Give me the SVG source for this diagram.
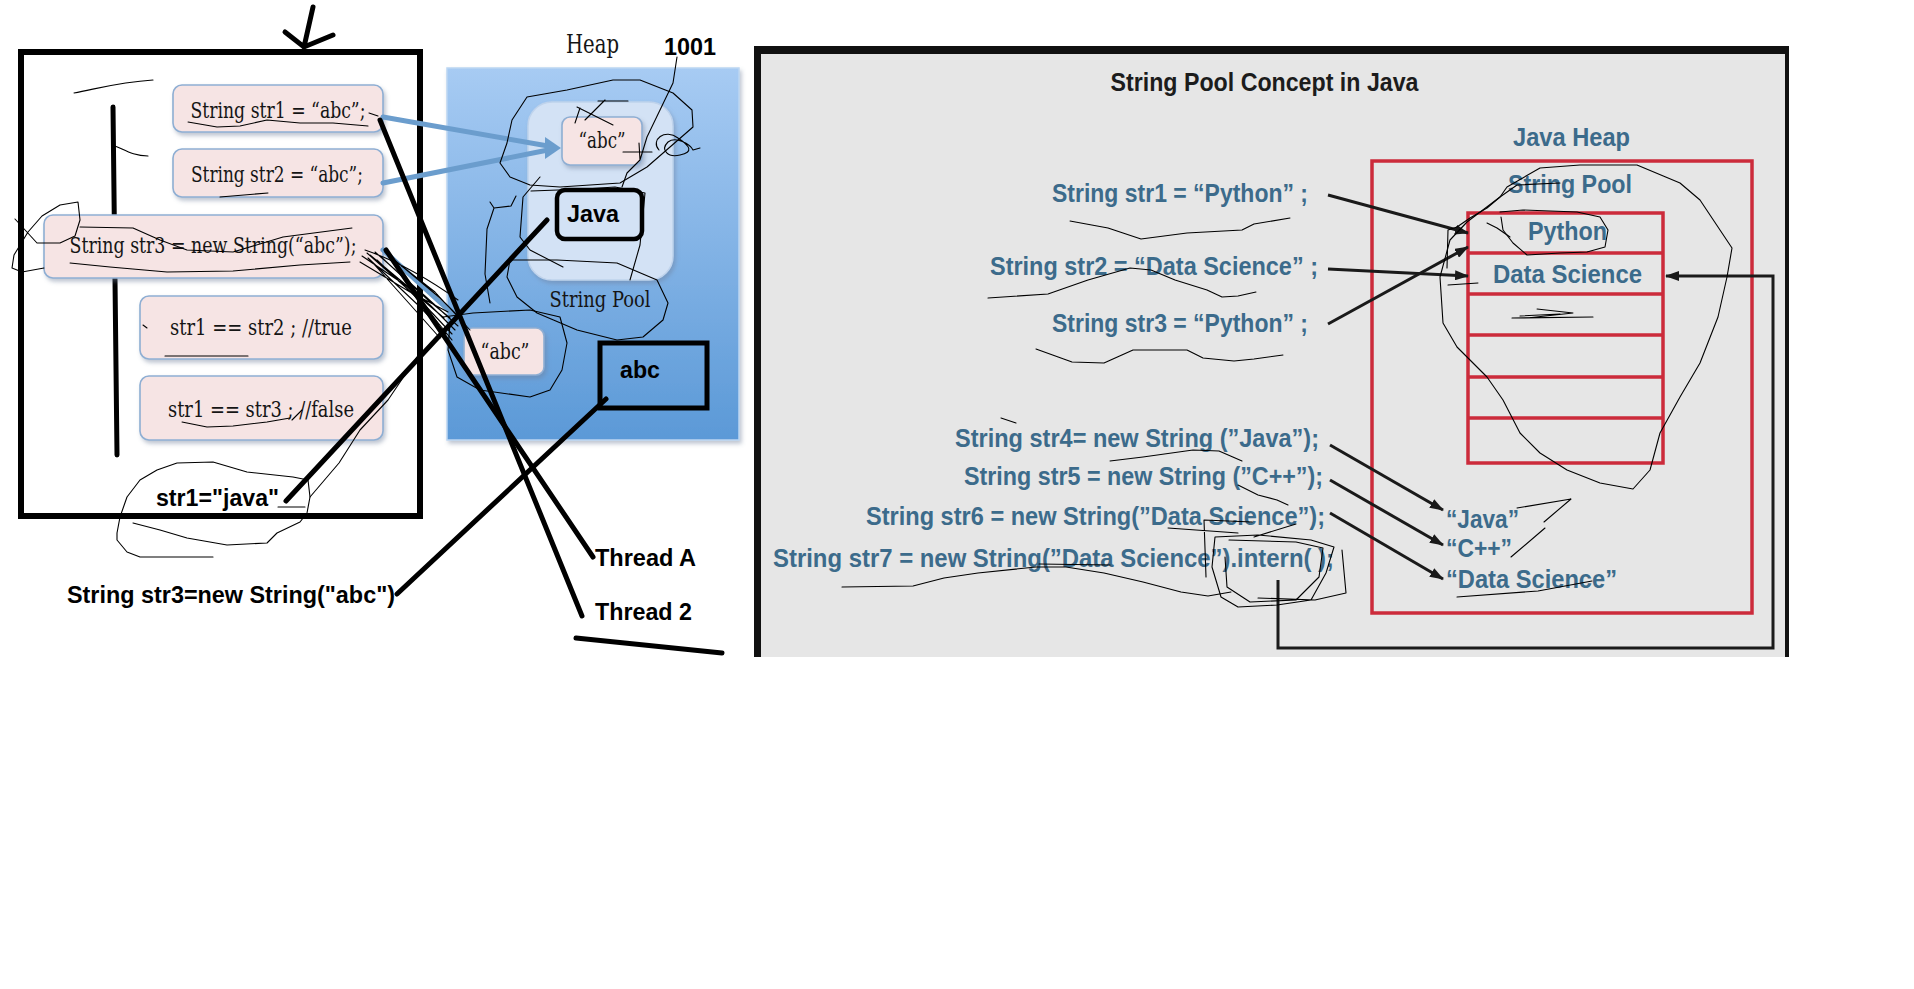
<svg xmlns="http://www.w3.org/2000/svg" width="1914" height="989" viewBox="0 0 1914 989">
<defs>
<style>
.ink{stroke:#000;stroke-width:5;stroke-linecap:round;fill:none}
.thin{stroke:#000;stroke-width:1.1;fill:none;stroke-linejoin:round;stroke-linecap:round}
.pink{fill:#f6e4e4;stroke:#8eaed3;stroke-width:1.6}
.serif{font-family:"DejaVu Serif","Liberation Serif",serif;font-size:22px;fill:#151515}
.bold{font-family:"Liberation Sans",Arial,sans-serif;font-weight:bold;font-size:23px;fill:#000}
.blue{stroke:#6b9dcd;stroke-width:5;fill:none;stroke-linecap:round}
.rtxt{font-family:"Liberation Sans",Arial,sans-serif;font-weight:bold;font-size:25px;fill:#3c6b8b}
.red{fill:none;stroke:#cc2b3b;stroke-width:3.5}
.rarrow{stroke:#1a1a1a;stroke-width:3;fill:none;marker-end:url(#ah)}
</style>
<linearGradient id="heapGrad" x1="0" y1="0" x2="0" y2="1">
<stop offset="0" stop-color="#a7cbf3"/>
<stop offset="1" stop-color="#5b99d7"/>
</linearGradient>
<filter id="shadow" x="-10%" y="-10%" width="130%" height="140%">
<feDropShadow dx="2" dy="3" stdDeviation="2" flood-color="#6f7f99" flood-opacity="0.45"/>
</filter>
<marker id="ah" markerWidth="14" markerHeight="10" refX="13" refY="5" orient="auto" markerUnits="userSpaceOnUse">
<path d="M0,0 L14,5 L0,10 z" fill="#1a1a1a"/>
</marker>
</defs>
<rect x="0" y="0" width="1914" height="989" fill="#fff"/>

<!-- Left frame -->
<g id="frame">
<rect x="21" y="52" width="399" height="464" fill="none" stroke="#000" stroke-width="6"/>
<path class="ink" d="M313,7 L304,47 M285,32 L304,47 L333,35"/>
<path class="ink" d="M113,107 L115,280 L117,455"/>
</g>

<!-- Heap panel -->
<g id="heap">
<rect x="447" y="68" width="292" height="372" fill="url(#heapGrad)" stroke="#bcd6f2" stroke-width="1.5" filter="url(#shadow)"/>
<text class="serif" x="566" y="53" style="font-size:26px" textLength="53" lengthAdjust="spacingAndGlyphs" fill="#1e2a3a">Heap</text>
<text class="bold" x="664" y="55" textLength="52" lengthAdjust="spacingAndGlyphs">1001</text>
</g>
<g id="string-pool">
<rect x="528" y="102" width="145" height="178" rx="24" fill="#d3e2f5" stroke="#bfd3ec" stroke-width="1.5" filter="url(#shadow)"/>
<text class="serif" x="549.5" y="307" textLength="101" lengthAdjust="spacingAndGlyphs" fill="#1b2b48">String Pool</text>
</g>
<g id="pool-abc">
<rect class="pink" x="562" y="117" width="80" height="48" rx="8" filter="url(#shadow)"/>
<text class="serif" x="602" y="148" text-anchor="middle" textLength="47" lengthAdjust="spacingAndGlyphs">“abc”</text>
</g>
<g id="heap-abc">
<rect class="pink" x="464" y="328" width="80" height="47" rx="8" filter="url(#shadow)"/>
<text class="serif" x="505" y="359" text-anchor="middle" textLength="49" lengthAdjust="spacingAndGlyphs">“abc”</text>
</g>
<g id="java-box">
<rect x="557" y="190" width="85" height="49" rx="8" fill="#d3e2f5" stroke="#000" stroke-width="4.5"/>
<text class="bold" x="567" y="222" textLength="52" lengthAdjust="spacingAndGlyphs">Java</text>
</g>
<g id="abc-box">
<rect x="600" y="343" width="107" height="65" fill="none" stroke="#000" stroke-width="5"/>
<text class="bold" x="620" y="378" textLength="40" lengthAdjust="spacingAndGlyphs">abc</text>
</g>

<!-- Code boxes -->
<g id="str1">
<rect class="pink" x="173" y="85" width="210" height="47" rx="9" filter="url(#shadow)"/>
<text class="serif" x="278" y="118" text-anchor="middle" textLength="175" lengthAdjust="spacingAndGlyphs">String str1 = “abc”;</text>
</g>
<g id="str2">
<rect class="pink" x="173" y="149" width="210" height="48" rx="9" filter="url(#shadow)"/>
<text class="serif" x="277" y="182" text-anchor="middle" textLength="172" lengthAdjust="spacingAndGlyphs">String str2 = “abc”;</text>
</g>
<g id="str3">
<rect class="pink" x="44" y="215" width="339" height="63" rx="9" filter="url(#shadow)"/>
<text class="serif" x="213" y="253" text-anchor="middle" textLength="287" lengthAdjust="spacingAndGlyphs">String str3 = new String(“abc”);</text>
</g>
<g id="cmp1">
<rect class="pink" x="140" y="296" width="243" height="63" rx="9" filter="url(#shadow)"/>
<text class="serif" x="261" y="335" text-anchor="middle" textLength="182" lengthAdjust="spacingAndGlyphs">str1 == str2 ; //true</text>
</g>
<g id="cmp2">
<rect class="pink" x="140" y="376" width="243" height="64" rx="9" filter="url(#shadow)"/>
<text class="serif" x="261" y="417" text-anchor="middle" textLength="186" lengthAdjust="spacingAndGlyphs">str1 == str3 ; //false</text>
</g>

<g id="labels">
<text class="bold" x="156" y="506" textLength="123" lengthAdjust="spacingAndGlyphs">str1="java"</text>
<text class="bold" x="67" y="603" textLength="328" lengthAdjust="spacingAndGlyphs">String str3=new String("abc")</text>
<text class="bold" x="595" y="566" textLength="101" lengthAdjust="spacingAndGlyphs">Thread A</text>
<text class="bold" x="595" y="620" textLength="97" lengthAdjust="spacingAndGlyphs">Thread 2</text>
</g>

<!-- Right panel -->
<g id="right-panel">
<rect x="757" y="50" width="1030" height="607" fill="#e6e6e6"/>
<rect x="754" y="46" width="1035" height="8" fill="#111"/>
<rect x="754" y="46" width="7" height="611" fill="#111"/>
<rect x="1785" y="46" width="4" height="611" fill="#111"/>
<text x="1110.5" y="91" font-family="'Liberation Sans',Arial,sans-serif" font-weight="bold" font-size="25" fill="#1c1c1c" textLength="308" lengthAdjust="spacingAndGlyphs">String Pool Concept in Java</text>
</g>
<g id="java-heap">
<rect class="red" x="1372" y="161" width="380" height="452"/>
<text class="rtxt" x="1513" y="146" textLength="117" lengthAdjust="spacingAndGlyphs">Java Heap</text>
<text class="rtxt" x="1508" y="193" textLength="124" lengthAdjust="spacingAndGlyphs">String Pool</text>
</g>
<g id="pool-table">
<rect class="red" x="1468" y="213" width="195" height="250"/>
<path class="red" d="M1468,253 H1663 M1468,294 H1663 M1468,335 H1663 M1468,377 H1663 M1468,418 H1663"/>
<text class="rtxt" x="1528" y="240" textLength="79" lengthAdjust="spacingAndGlyphs">Python</text>
<text class="rtxt" x="1493" y="283" textLength="149" lengthAdjust="spacingAndGlyphs">Data Science</text>
</g>
<g id="right-code">
<text class="rtxt" x="1052" y="202" textLength="256" lengthAdjust="spacingAndGlyphs">String str1 = “Python” ;</text>
<text class="rtxt" x="990" y="275" textLength="328" lengthAdjust="spacingAndGlyphs">String str2 = “Data Science” ;</text>
<text class="rtxt" x="1052" y="332" textLength="256" lengthAdjust="spacingAndGlyphs">String str3 = “Python” ;</text>
<text class="rtxt" x="955" y="447" textLength="364" lengthAdjust="spacingAndGlyphs">String str4= new String (”Java”);</text>
<text class="rtxt" x="964" y="485" textLength="359" lengthAdjust="spacingAndGlyphs">String str5 = new String (”C++”);</text>
<text class="rtxt" x="866" y="525" textLength="459" lengthAdjust="spacingAndGlyphs">String str6 = new String(”Data Science”);</text>
<text class="rtxt" x="773" y="567" textLength="561" lengthAdjust="spacingAndGlyphs">String str7 = new String(”Data Science”).intern( );</text>
</g>
<g id="heap-objects">
<text class="rtxt" x="1446" y="528" textLength="73" lengthAdjust="spacingAndGlyphs">“Java”</text>
<text class="rtxt" x="1446" y="557" textLength="66" lengthAdjust="spacingAndGlyphs">“C++”</text>
<text class="rtxt" x="1446" y="588" textLength="171" lengthAdjust="spacingAndGlyphs">“Data Science”</text>
</g>

<!-- Connectors -->
<g id="connectors">
<path class="blue" d="M383,117 L548,146"/>
<path class="blue" d="M383,183 L548,150"/>
<polygon points="561,148 545,137 545,159" fill="#6b9dcd"/>
<path class="blue" d="M383,250 L455,316"/>
<polygon points="465,325 448.6,322.3 460.6,308.9" fill="#6b9dcd"/>
<path class="ink" d="M380,120 L582,616"/>
<path class="ink" d="M386,250 L593,557"/>
<path class="ink" d="M286,501 L547,220"/>
<path class="ink" d="M397,594 L606,399"/>
<path class="ink" d="M576,638 L722,653"/>
<path class="rarrow" d="M1328,195 L1468,233"/>
<path class="rarrow" d="M1328,269 L1468,276"/>
<path class="rarrow" d="M1328,324 L1468,247"/>
<path class="rarrow" d="M1330,445 L1443,510"/>
<path class="rarrow" d="M1330,480 L1443,545"/>
<path class="rarrow" d="M1330,513 L1443,579"/>
<path class="rarrow" stroke-width="2.5" d="M1278,580 L1278,648 L1773,648 L1773,276 L1666,276"/>
</g>

<!-- Hand-drawn scribbles -->
<g id="scribbles">
<path class="thin" d="M74,93 C100,88 120,82 153,80"/>
<path class="thin" d="M115,146 C125,150 133,156 148,156"/>
<path class="thin" d="M188,122 L217,127 L240,126 L267,120 L300,123 L333,123 L368,126 M369,113 L378,116"/>
<path class="thin" d="M220,197 L268,193"/>
<path class="thin" d="M78,202 L60,205 L42,216 L28,232 L14,255 L12,268 L22,272 L44,268 M15,219 L37,243 L60,243 L75,236 L80,220 L78,202"/>
<path class="thin" d="M80,227 L133,228 L160,240 L187,250 L233,252 L283,237 L352,228"/>
<path class="thin" d="M70,263 L110,267 L167,272 L233,271 L300,265 L350,262"/>
<path class="thin" d="M367,253 L420,300 L452,334 M370,255 L430,305 L455,330 M375,252 L425,296 L458,326 M368,258 L418,305 L446,334 M380,256 L428,300 L450,318 M372,262 L415,310 L440,338 M360,262 L410,292 L448,312 M385,252 L440,298 L462,320 M365,250 C400,262 430,280 458,300 M362,256 L405,285 L444,318 M377,260 L422,303 L452,340 M390,257 L435,292 L470,330"/>
<path class="thin" d="M417,357 L388,400 L360,430 L339,463 L310,497"/>
<path class="thin" d="M143,325 L147,328 M165,356 L248,356"/>
<path class="thin" d="M182,422 L207,427 L233,426 L267,422 L290,418 M292,420 L302,410"/>
<path class="thin" d="M157,470 L177,463 L213,462 L247,472 L293,477 L308,480 L310,497 L307,513 L300,522 L277,533 L267,543 L227,545 L187,538 L160,530 L133,523 M157,470 L140,480 L127,497 L120,517 L117,533 L117,540 L127,552 L140,557 L213,557 M278,507 L305,507"/>
<path class="thin" d="M640,80 L613,80 L567,90 L527,97 L512,120 L507,143 L500,163 L510,177 L530,185 L560,187 L590,185 L620,183 L647,167 L670,147 L693,127 L692,110 L673,93 L640,80"/>
<path class="thin" d="M677,57 L673,83 L660,110 L647,137 L640,160 L627,173 L622,187 M639,143 L640,160 M623,152 L652,152"/>
<path class="thin" d="M659,150 C650,140 665,128 678,138 C690,146 694,152 680,155 C668,158 660,150 668,142 C676,136 690,144 693,150 L700,148"/>
<path class="thin" d="M577,107 L613,125 M585,120 L605,100 M598,101 L628,101 M580,108 L575,123"/>
<path class="thin" d="M516,196 L511,206 L494,208 L490,202 M494,208 L487,229 L485,274 L490,303"/>
<path class="thin" d="M540,177 L523,197 L520,237 L530,250 L563,267 M531,191 L585,189 L615,187 L645,193 L640,245 L630,280"/>
<path class="thin" d="M510,260 L557,260 L617,263 L657,280 L668,303 L663,320 L643,337 L617,340 L577,330 L537,313 L517,297 L507,277 L510,260"/>
<path class="thin" d="M443,317 L473,313 L530,310 L560,317 L567,343 L562,370 L550,390 L530,397 L480,390 L457,377 L448,350 L450,323"/>
<path class="thin" d="M1637,165 L1680,183 L1700,200 L1718,227 L1732,248 L1727,277 L1718,317 L1700,363 L1680,397 L1660,433 L1650,470 L1633,489 L1600,483 L1567,470 L1540,453 L1520,433 L1503,400 L1487,377 L1457,347 L1443,323 L1440,277 L1450,240 L1467,222 L1500,197 L1507,187 L1540,168 L1580,165 L1637,165"/>
<path class="thin" d="M1500,212 L1523,210 L1577,212 L1600,217 L1608,230 L1605,247 L1587,252 L1560,253 L1527,255 L1513,243 L1503,230 L1501,217"/>
<path class="thin" d="M1560,183 L1517,185 L1500,197 L1487,208 L1470,218 L1457,227 L1448,230 L1447,268 M1487,223 L1497,228 L1510,237 M1448,285 L1478,283"/>
<path class="thin" d="M1512,318 L1593,317 M1537,309 L1573,313 L1527,318 M1520,316 L1560,314"/>
<path class="thin" d="M1070,221 L1108,228 L1141,239 L1187,233 L1242,230 L1254,224 L1290,218"/>
<path class="thin" d="M988,298 L1048,294 L1088,280 L1130,268 L1151,270 L1175,280 L1207,290 L1222,297 L1238,296 L1256,292"/>
<path class="thin" d="M1036,349 L1072,362 L1104,363 L1133,350 L1187,350 L1203,358 L1234,361 L1254,359 L1283,355"/>
<path class="thin" d="M1001,418 L1016,423 M1110,461 L1143,457 L1193,450 L1219,451 L1242,461 M1238,485 L1258,495 L1277,500 L1288,505"/>
<path class="thin" d="M842,587 L913,586 L944,578 L978,573 L1036,567 L1066,567 L1104,573 L1143,582 L1181,592 L1208,596 L1231,592 M1039,564 L1110,565"/>
<path class="thin" d="M1215,537 L1258,535 L1311,540 L1334,547 L1326,573 L1311,600 L1277,605 L1238,607 L1221,597 L1212,567 L1215,537 M1229,540 L1296,542 L1323,548 L1319,577 L1296,600 L1250,602 L1227,587 L1225,557 M1342,550 L1346,593 L1315,600 L1258,598 M1204,520 L1206,577 M1204,520 L1252,522 M1168,528 L1238,533 M1254,537 L1296,524"/>
<path class="thin" d="M1517,508 L1571,499 L1544,522 M1511,557 L1545,528 M1457,597 L1538,591 L1592,581"/>
</g>
</svg>
